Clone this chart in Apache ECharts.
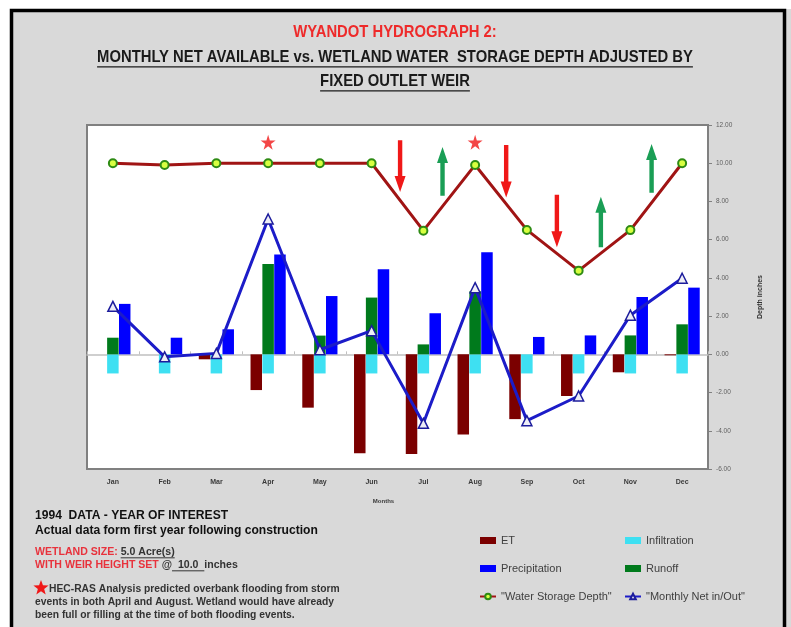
<!DOCTYPE html>
<html><head><meta charset="utf-8">
<script src="https://cdn.jsdelivr.net/npm/echarts@6/dist/echarts.min.js"></script>
<style>html,body{margin:0;padding:0;background:#fff}#c{width:791px;height:627px}</style>
</head><body><div id="c"></div>
<script>
// ---- data ----
const months = ['Jan','Feb','Mar','Apr','May','Jun','Jul','Aug','Sep','Oct','Nov','Dec'];
const et = [0, 0, -0.26, -1.87, -2.79, -5.18, -5.22, -4.19, -3.39, -2.18, -0.94, -0.05];
const infiltration = [-1, -1, -1, -1, -1, -1, -1, -1, -1, -1, -1, -1];
const runoff = [0.87, 0, 0, 4.73, 0.98, 2.97, 0.52, 3.3, 0, 0, 0.99, 1.57];
const precipitation = [2.64, 0.87, 1.31, 5.22, 3.05, 4.45, 2.15, 5.34, 0.91, 0.99, 3.0, 3.49];
const storageDepth = [10.0, 9.91, 10.0, 10.0, 10.0, 10.0, 6.47, 9.91, 6.51, 4.38, 6.5, 10.0];
const monthlyNet = [2.51, -0.13, 0.05, 7.08, 0.24, 1.24, -3.61, 3.49, -3.47, -2.18, 2.05, 3.98];
const floodMonths = ['Apr', 'Aug'];
const floodMarkLevel = [11.1, 11.1];
// arrows: position (category index units), tail value, tip value
const arrowPos = [5.55, 6.37, 7.6, 8.58, 9.43, 10.41];
const arrowTail = [11.2, 8.3, 10.95, 8.35, 5.6, 8.45];
const arrowTip = [8.5, 10.85, 8.2, 5.6, 8.25, 11.0];
const yTicks = {min: -6, max: 12, interval: 2};

// ---- helpers ----
const mctx = document.createElement('canvas').getContext('2d');
function measure(text, font){ mctx.font = font; return mctx.measureText(text).width; }
function fit(text, weight, family, target){ return 100 * target / measure(text, weight + ' 100px ' + family); }

const TF = "'Liberation Sans Narrow', 'Liberation Sans', sans-serif";
const AF = "'Liberation Sans', Arial, sans-serif";
const titleLines = ['WYANDOT HYDROGRAPH 2:', 'MONTHLY NET AVAILABLE vs. WETLAND WATER  STORAGE DEPTH ADJUSTED BY', 'FIXED OUTLET WEIR'];
const tSize = fit(titleLines[1], 'bold', TF, 596);
const tFont = 'bold ' + tSize.toFixed(2) + 'px ' + TF;
const tStretch = Math.max(1, 11.5 / (0.716 * tSize));

const graphics = [];
graphics.push({type:'rect', shape:{x:0,y:0,width:791,height:9}, style:{fill:'#fff'}, silent:true, z:-10});
graphics.push({type:'rect', shape:{x:0,y:0,width:10,height:627}, style:{fill:'#fff'}, silent:true, z:-10});
graphics.push({type:'rect', shape:{x:11.5,y:10.5,width:773,height:700}, style:{fill:null, stroke:'#000', lineWidth:3.5}, silent:true, z:100});
const tY = [33, 58, 82];
titleLines.forEach((t, i) => {
  graphics.push({type:'text', x:395, y:tY[i], scaleY:tStretch, style:{text:t, font:tFont, fill: i===0 ? '#ee2a2a' : '#1a1a1a', align:'center', verticalAlign:'middle'}, silent:true});
  if (i > 0) {
    const w = measure(t, tFont);
    const uy = tY[i] + tSize*0.55*tStretch;
    graphics.push({type:'line', shape:{x1:395-w/2, y1:uy, x2:395+w/2, y2:uy}, style:{stroke:'#1a1a1a', lineWidth:1.3}, silent:true});
  }
});
// bottom-left notes
const n1 = '1994  DATA - YEAR OF INTEREST';
const n2 = 'Actual data form first year following construction';
const nSize = fit(n2, 'bold', AF, 283);
const nFont = 'bold ' + nSize.toFixed(2) + 'px ' + AF;
graphics.push({type:'text', x:35, y:516, style:{text:n1, font:nFont, fill:'#111', verticalAlign:'middle'}, silent:true});
graphics.push({type:'text', x:35, y:531, style:{text:n2, font:nFont, fill:'#111', verticalAlign:'middle'}, silent:true});
const wSize = fit('WITH WEIR HEIGHT SET @  10.0  inches', 'bold', AF, 203);
const wFont = 'bold ' + wSize.toFixed(2) + 'px ' + AF;
function pieces(y, parts){
  let x = 35;
  parts.forEach(p => {
    const w = measure(p.t, wFont);
    graphics.push({type:'text', x:x, y:y, style:{text:p.t, font:wFont, fill:p.c, verticalAlign:'middle'}, silent:true});
    if (p.u) graphics.push({type:'line', shape:{x1:x, y1:y+wSize*0.55, x2:x+w, y2:y+wSize*0.55}, style:{stroke:p.c, lineWidth:1}, silent:true});
    x += w;
  });
}
pieces(552, [{t:'WETLAND SIZE: ', c:'#e8323c'}, {t:'5.0 Acre(s)', c:'#333', u:true}]);
pieces(565, [{t:'WITH WEIR HEIGHT SET ', c:'#e8323c'}, {t:'@', c:'#333'}, {t:'  10.0  ', c:'#333', u:true}, {t:'inches', c:'#333'}]);
const h1 = 'HEC-RAS Analysis predicted overbank flooding from storm';
const hSize = fit(h1, 'bold', AF, 291);
const hFont = 'bold ' + hSize.toFixed(2) + 'px ' + AF;
graphics.push({type:'text', x:49, y:589, style:{text:h1, font:hFont, fill:'#333', verticalAlign:'middle'}, silent:true});
graphics.push({type:'text', x:35, y:602, style:{text:'events in both April and August. Wetland would have already', font:hFont, fill:'#333', verticalAlign:'middle'}, silent:true});
graphics.push({type:'text', x:35, y:615, style:{text:'been full or filling at the time of both flooding events.', font:hFont, fill:'#333', verticalAlign:'middle'}, silent:true});
// star bullet
(function(){
  const cx = 41, cy = 588, R = 8, r = 3.3, pts = [];
  for (let k = 0; k < 10; k++) {
    const a = -Math.PI/2 + k*Math.PI/5, rr = k%2 ? r : R;
    pts.push([cx + rr*Math.cos(a), cy + rr*Math.sin(a)]);
  }
  graphics.push({type:'polygon', shape:{points:pts}, style:{fill:'#f01818'}, silent:true});
})();

const STAR = 'path://M50,0 L61,35 L98,35 L68,57 L79,91 L50,70 L21,91 L32,57 L2,35 L39,35 Z';

const option = {
  backgroundColor: '#d9d9d9',
  animation: false,
  textStyle: {fontFamily: AF},
  graphic: graphics,
  grid: {left: 87, top: 125, right: 83, bottom: 158, show: true, backgroundColor: '#fff', borderColor: '#808080', borderWidth: 2},
  legend: [
    {orient:'vertical', left:474, top:530, itemGap:17, itemWidth:16, itemHeight:7,
     textStyle:{fontSize:11, color:'#404040', fontFamily:AF},
     data:[{name:'ET', icon:'rect'}, {name:'Precipitation', icon:'rect'}, {name:'"Water Storage Depth"'}]},
    {orient:'vertical', left:619, top:530, itemGap:17, itemWidth:16, itemHeight:7,
     textStyle:{fontSize:11, color:'#404040', fontFamily:AF},
     data:[{name:'Infiltration', icon:'rect'}, {name:'Runoff', icon:'rect'}, {name:'"Monthly Net in/Out"'}]}
  ],
  xAxis: [
    {type:'category', data: months, position:'bottom', axisLine:{show:false, onZero:false}, axisTick:{show:false},
     axisLabel:{fontSize:7, fontWeight:'bold', color:'#3a3a3a', margin:10},
     name:'Months', nameLocation:'middle', nameGap:29, nameTextStyle:{fontSize:6, fontWeight:'bold', color:'#3a3a3a', padding:[0,28,0,0]}},
    {type:'category', data: months, axisLine:{show:true, onZero:true, lineStyle:{color:'#c0c0c0', width:1.5}},
     axisTick:{show:true, length:3, lineStyle:{color:'#c0c0c0'}}, axisLabel:{show:false}},
    {type:'value', min:-0.5, max:11.5, show:false}
  ],
  yAxis: [{type:'value', position:'right', min:yTicks.min, max:yTicks.max, interval:yTicks.interval,
    axisLine:{show:true, onZero:false, lineStyle:{color:'#808080', width:2}}, axisTick:{show:true, length:4, lineStyle:{color:'#808080'}},
    splitLine:{show:false},
    axisLabel:{fontSize:6.5, color:'#606060', margin:8, formatter: v => v.toFixed(2)},
    name:'Depth inches', nameLocation:'middle', nameRotate:90, nameGap:49,
    nameTextStyle:{fontSize:7, fontWeight:'bold', color:'#333'}}],
  series: [
    {name:'ET', type:'bar', data: et, barWidth:11.5, barGap:'3%', itemStyle:{color:'#7b0000'}},
    {name:'Infiltration', type:'bar', stack:'ri', data: infiltration, barWidth:11.5, itemStyle:{color:'#3ee0f2'}},
    {name:'Runoff', type:'bar', stack:'ri', data: runoff, barWidth:11.5, itemStyle:{color:'#007a1c'}},
    {name:'Precipitation', type:'bar', data: precipitation, barWidth:11.5, itemStyle:{color:'#0000ff'}},
    {name:'"Monthly Net in/Out"', type:'line', data: monthlyNet, z:5, symbol:'triangle', symbolSize:10,
     lineStyle:{color:'#1c1cc8', width:3}, itemStyle:{color:'#eeeef6', borderColor:'#1c1c9c', borderWidth:1.5}},
    {name:'"Water Storage Depth"', type:'line', data: storageDepth, z:6, symbol:'circle', symbolSize:8,
     lineStyle:{color:'#a01414', width:3}, itemStyle:{color:'#d8ff40', borderColor:'#2e8b14', borderWidth:2}},
    {name:'flood', type:'scatter', data: floodMonths.map((m, i) => [m, floodMarkLevel[i]]), symbol: STAR, symbolSize:15,
     itemStyle:{color:'#f01818'}, z:7, silent:true},
    {name:'arrows', type:'custom', xAxisIndex:2, yAxisIndex:0, z:7, silent:true,
     data: arrowPos.map((p, i) => [p, arrowTail[i], arrowTip[i]]),
     renderItem: function(params, api){
       const p1 = api.coord([api.value(0), api.value(1)]);
       const p2 = api.coord([api.value(0), api.value(2)]);
       const dir = p2[1] > p1[1] ? 1 : -1;
       const headLen = 16, hh = 5.5, sh = 2.2, cx = p1[0];
       const by = p2[1] - dir*headLen;
       return {type:'polygon', shape:{points:[[cx-sh,p1[1]],[cx+sh,p1[1]],[cx+sh,by],[cx+hh,by],[cx,p2[1]],[cx-hh,by],[cx-sh,by]]},
               style:{fill: dir > 0 ? '#f01818' : '#1a9e55'}};
     }}
  ]
};
const chart = echarts.init(document.getElementById('c'));
chart.setOption(option);
</script></body></html>
